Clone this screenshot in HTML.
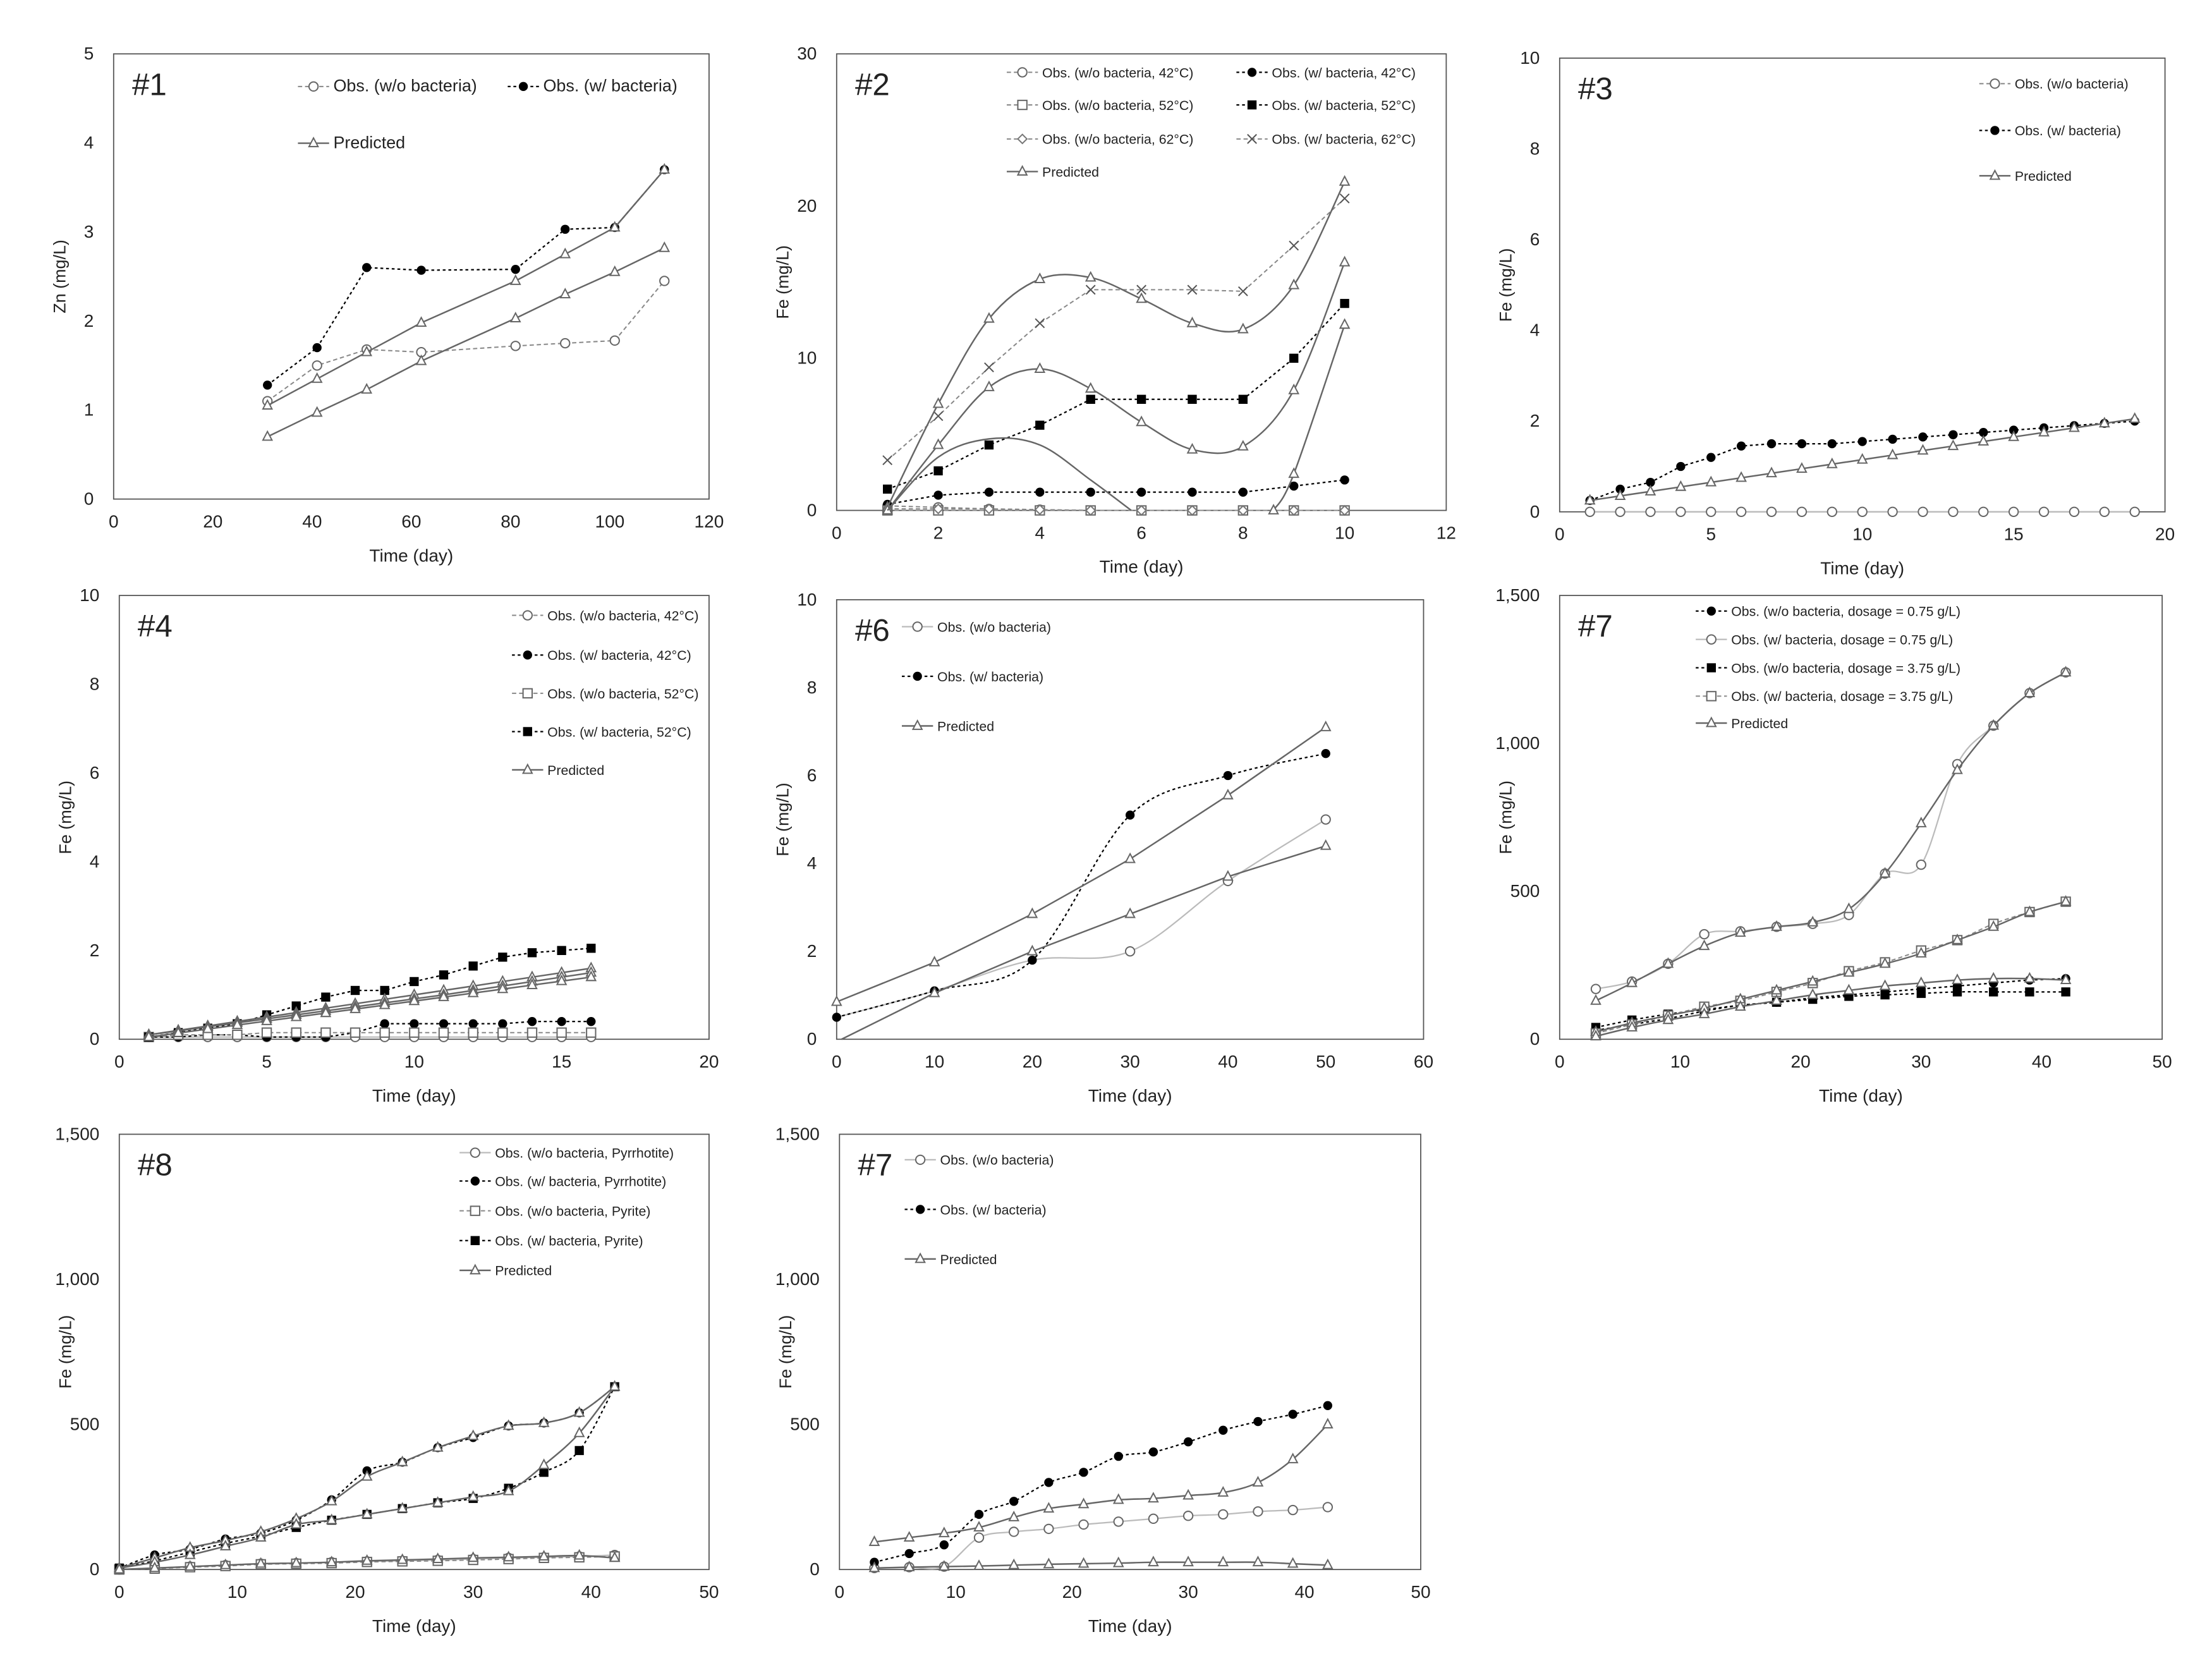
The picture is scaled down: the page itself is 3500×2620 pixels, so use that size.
<!DOCTYPE html>
<html><head><meta charset="utf-8"><style>
html,body{margin:0;padding:0;background:#fff}
svg{display:block}
text{font-family:"Liberation Sans",sans-serif;fill:#222}
</style></head><body>
<svg id="fig" width="3500" height="2620" viewBox="0 0 1560 1168" xmlns="http://www.w3.org/2000/svg"></svg>
<script>
// ---- Panel #1 data
const p1Days=[31,41,51,62,81,91,101,111];
const p1Wo=[1.1,1.5,1.68,1.65,1.72,1.75,1.78,2.45];
const p1W=[1.28,1.7,2.6,2.57,2.58,3.03,3.05,3.7];
const p1PredA=[1.05,1.35,1.65,1.98,2.45,2.75,3.05,3.7];
const p1PredB=[0.7,0.97,1.23,1.55,2.03,2.3,2.55,2.82];
// ---- Panel #2 data
const p2Days=[1,2,3,4,5,6,7,8,9,10];
const p2Wo42=[0.3,0.2,0.1,0.05,0,0,0,0,0,0];
const p2W42=[0.4,1.0,1.2,1.2,1.2,1.2,1.2,1.2,1.6,2.0];
const p2Wo52=[0,0,0,0,0,0,0,0,0,0];
const p2W52=[1.4,2.6,4.3,5.6,7.3,7.3,7.3,7.3,10.0,13.6];
const p2Wo62=[0.1,0.1,0.1,0.05,0,0,0,0,0,0];
const p2W62=[3.3,6.2,9.4,12.3,14.5,14.5,14.5,14.4,17.4,20.5];
const p2PredA=[0.2,7.0,12.6,15.2,15.3,13.9,12.3,11.9,14.8,21.6];
const p2PredB=[0,4.3,8.1,9.3,8.0,5.8,4.0,4.2,7.9,16.3];
const p2PredCx=[1,2,3,4,5,5.8];
const p2PredC=[0,3.5,4.7,4.3,2.0,0];
const p2PredDx=[8.6,9,10];
const p2PredD=[0,2.4,12.2];
// ---- Panel #3 data
const p3Days=[1,2,3,4,5,6,7,8,9,10,11,12,13,14,15,16,17,18,19];
const p3Wo=[0,0,0,0,0,0,0,0,0,0,0,0,0,0,0,0,0,0,0];
const p3W=[0.25,0.5,0.65,1.0,1.2,1.45,1.5,1.5,1.5,1.55,1.6,1.65,1.7,1.75,1.8,1.85,1.9,1.95,2.0];
const p3Pred=[0.25,0.35,0.45,0.55,0.65,0.75,0.85,0.95,1.05,1.15,1.25,1.35,1.45,1.55,1.65,1.75,1.85,1.95,2.05];
// ---- Panel #4 data
const p4Days=[1,2,3,4,5,6,7,8,9,10,11,12,13,14,15,16];
const p4Wo42=[0.05,0.05,0.05,0.05,0.05,0.05,0.05,0.05,0.05,0.05,0.05,0.05,0.05,0.05,0.05,0.05];
const p4W42=[0.05,0.05,0.1,0.1,0.05,0.05,0.05,0.15,0.35,0.35,0.35,0.35,0.35,0.4,0.4,0.4];
const p4Wo52=[0.05,0.1,0.1,0.1,0.15,0.15,0.15,0.15,0.15,0.15,0.15,0.15,0.15,0.15,0.15,0.15];
const p4W52=[0.05,0.15,0.25,0.35,0.55,0.75,0.95,1.1,1.1,1.3,1.45,1.65,1.85,1.95,2.0,2.05];
const p4PredA=[0.1,0.2,0.3,0.4,0.5,0.6,0.7,0.8,0.9,1.0,1.1,1.2,1.3,1.4,1.5,1.6];
const p4PredB=[0.1,0.19,0.28,0.37,0.46,0.55,0.64,0.73,0.82,0.91,1.0,1.1,1.2,1.3,1.4,1.5];
const p4PredC=[0.05,0.14,0.23,0.32,0.41,0.5,0.59,0.68,0.77,0.86,0.95,1.04,1.13,1.22,1.31,1.4];
// ---- Panel #6 data
const p6Days=[0,10,20,30,40,50];
const p6Wo=[0.5,1.1,1.8,2.0,3.6,5.0];
const p6W=[0.5,1.1,1.8,5.1,6.0,6.5];
const p6PredA=[0.85,1.75,2.85,4.1,5.55,7.1];
const p6PredBx=[0.5,10,20,30,40,50];
const p6PredB=[-0.1,1.05,2.0,2.85,3.7,4.4];
// ---- Panel #7 data
const p7Days=[3,6,9,12,15,18,21,24,27,30,33,36,39,42];
const p7Wo075=[30,50,70,95,115,125,140,150,160,170,180,190,200,205];
const p7W075=[170,195,255,355,365,380,390,420,560,590,930,1060,1170,1240];
const p7Wo375=[40,65,85,100,115,125,135,145,150,155,160,160,160,160];
const p7W375=[20,50,80,110,130,160,190,230,260,300,335,390,430,465];
const p7PredA=[130,190,255,315,360,380,395,440,560,730,910,1060,1170,1240];
const p7PredB=[25,55,80,105,135,165,195,225,255,290,335,380,430,465];
const p7PredC=[10,40,65,85,110,130,150,165,180,190,200,205,205,200];
// ---- Panel #8 data
const p8Days=[0,3,6,9,12,15,18,21,24,27,30,33,36,39,42];
const p8WoPy=[0,5,10,15,20,22,25,28,30,33,36,40,42,45,50];
const p8WPy=[5,50,70,105,125,170,240,340,370,420,455,495,505,540,630];
const p8WoPr=[0,3,8,12,18,20,22,26,28,30,33,36,40,42,45];
const p8WPr=[5,30,60,90,115,145,170,190,210,230,245,280,335,410,630];
const p8PredA=[5,40,75,100,130,175,235,320,370,420,460,495,505,540,630];
const p8PredB=[5,25,50,80,110,155,170,190,210,230,250,270,360,470,630];
const p8PredC=[0,5,10,15,20,22,25,30,33,36,40,42,45,48,40];
// ---- Panel #7 (red) data
const p9Days=[3,6,9,12,15,18,21,24,27,30,33,36,39,42];
const p9Wo=[5,8,10,110,130,140,155,165,175,185,190,200,205,215];
const p9W=[25,55,85,190,235,300,335,390,405,440,480,510,535,565];
const p9PredA=[95,110,125,145,180,210,225,240,245,255,265,300,380,500];
const p9PredB=[5,8,10,12,15,18,20,22,25,25,25,25,20,15];

const NS="http://www.w3.org/2000/svg";
const fig=document.getElementById('fig');
function mk(tag,attrs,parent){const e=document.createElementNS(NS,tag);for(const k in attrs)e.setAttribute(k,attrs[k]);(parent||fig).appendChild(e);return e;}
function fmt(v){return v>=1000?(Math.floor(v/1000)+','+String(v%1000).padStart(3,'0')):String(v);}
function marker(g,m,x,y,col){
  const r=3.2;let e;
  if(m==='oc')e=mk('circle',{cx:x,cy:y,r:r,fill:'#fff',stroke:col,'stroke-width':0.9},g);
  else if(m==='fc')e=mk('circle',{cx:x,cy:y,r:r,fill:'#000'},g);
  else if(m==='os')e=mk('rect',{x:x-r,y:y-r,width:2*r,height:2*r,fill:'#fff',stroke:col,'stroke-width':0.9},g);
  else if(m==='fs')e=mk('rect',{x:x-r,y:y-r,width:2*r,height:2*r,fill:'#000'},g);
  else if(m==='tri')e=mk('polygon',{points:`${x},${y-r-0.5} ${x-r},${y+r-0.8} ${x+r},${y+r-0.8}`,fill:'#fff',stroke:'#666','stroke-width':0.9},g);
  else if(m==='x')e=mk('path',{d:`M${x-r} ${y-r}L${x+r} ${y+r}M${x-r} ${y+r}L${x+r} ${y-r}`,stroke:'#555','stroke-width':0.9},g);
  else if(m==='dia')e=mk('polygon',{points:`${x},${y-r} ${x+r},${y} ${x},${y+r} ${x-r},${y}`,fill:'#fff',stroke:'#777','stroke-width':0.9},g);
  if(e){
  }
}
function smoothPath(pts){
  let d=`M${pts[0][0]} ${pts[0][1]}`;
  for(let i=0;i<pts.length-1;i++){
    const p0=pts[Math.max(0,i-1)],p1=pts[i],p2=pts[i+1],p3=pts[Math.min(pts.length-1,i+2)];
    const c1=[p1[0]+(p2[0]-p0[0])/6,p1[1]+(p2[1]-p0[1])/6],c2=[p2[0]-(p3[0]-p1[0])/6,p2[1]-(p3[1]-p1[1])/6];
    d+=`C${c1[0]} ${c1[1]} ${c2[0]} ${c2[1]} ${p2[0]} ${p2[1]}`;
  }
  return d;
}
const STY={
  wo:{stroke:'#888',dash:'3,2',w:0.9},
  w:{stroke:'#000',dash:'2,2',w:1},
  gray:{stroke:'#bbb',dash:'',w:1},
  pred:{stroke:'#666',dash:'',w:1.1}
};
function panel(p){
  const g=mk('g',{});
  
  
  const b=p.box;
  const sx=v=>b[0]+(v/p.xmax)*(b[2]-b[0]);
  const sy=v=>b[3]-(v/p.ymax)*(b[3]-b[1]);
  const fr=mk('rect',{x:b[0],y:b[1],width:b[2]-b[0],height:b[3]-b[1],fill:'none',stroke:'#555','stroke-width':0.8},g);
  
  
  for(let v=0;v<=p.xmax+1e-9;v+=p.xstep){
    const t=mk('text',{x:sx(v),y:b[3]+20,'font-size':12.5,'text-anchor':'middle'},g);t.textContent=fmt(Math.round(v));
    
    
  }
  for(let v=0;v<=p.ymax+1e-9;v+=p.ystep){
    const t=mk('text',{x:b[0]-14,y:sy(v)+4,'font-size':12.5,'text-anchor':'end'},g);t.textContent=fmt(Math.round(v));
    
    
  }
  const xt=mk('text',{x:(b[0]+b[2])/2,y:b[3]+44,'font-size':12.5,'text-anchor':'middle'},g);xt.textContent='Time (day)';
  
  
  const yc=[b[0]-34,(b[1]+b[3])/2];
  const yt=mk('text',{x:yc[0],y:yc[1],'font-size':12,'text-anchor':'middle',transform:`rotate(-90 ${yc[0]} ${yc[1]})`},g);yt.textContent=p.ytitle;
  
  
  const lb=mk('text',{x:b[0]+13,y:b[1]+29,'font-size':22,fill:p.labelColor||'#222'},g);lb.textContent=p.label;
  
  
  const cg=mk('g',{'clip-path':''},g);
  for(const s of p.series){
    const st=STY[s.style];
    const pts=s.xs.map((x,i)=>[sx(x),Math.min(b[3],sy(s.ys[i]))]);
    if(st){
      const d=s.smooth?smoothPath(pts):'M'+pts.map(q=>q.join(' ')).join('L');
      const l=mk('path',{d:d,fill:'none',stroke:st.stroke,'stroke-width':st.w,'stroke-dasharray':st.dash},cg);
      
      
    }
    if(s.m)pts.forEach(q=>marker(cg,s.m,q[0],q[1],s.mc||'#666'));
  }
  p.legend.forEach((L,i)=>{
    const lx=L[0],ly=L[1];
    const lg=mk('g',{},g);
    
    
    const st=STY[L[3]];
    mk('line',{x1:lx,y1:ly,x2:lx+22,y2:ly,stroke:st.stroke,'stroke-width':st.w,'stroke-dasharray':st.dash},lg);
    marker(lg,L[2],lx+11,ly,'#666');
    const t=mk('text',{x:lx+25,y:ly+3.5,'font-size':L[5]||9.5},lg);t.textContent=L[4];
  });
}

panel({name:'panel-1',box:[80,38,500,352],xmax:120,xstep:20,ymax:5,ystep:1,label:'#1',ytitle:'Zn (mg/L)',
 series:[{xs:p1Days,ys:p1Wo,style:'wo',m:'oc'},{xs:p1Days,ys:p1W,style:'w',m:'fc'},
 {xs:p1Days,ys:p1PredA,style:'pred',m:'tri'},{xs:p1Days,ys:p1PredB,style:'pred',m:'tri'}],
 legend:[[210,61,'oc','wo','Obs. (w/o bacteria)',12],[358,61,'fc','w','Obs. (w/ bacteria)',12],[210,101,'tri','pred','Predicted',12]]});

panel({name:'panel-2',box:[590,38,1020,360],xmax:12,xstep:2,ymax:30,ystep:10,label:'#2',ytitle:'Fe (mg/L)',
 series:[{xs:p2Days,ys:p2Wo42,style:'wo',m:'oc'},{xs:p2Days,ys:p2W42,style:'w',m:'fc'},
 {xs:p2Days,ys:p2Wo52,style:'wo',m:'os'},{xs:p2Days,ys:p2W52,style:'w',m:'fs'},
 {xs:p2Days,ys:p2Wo62,style:'wo',m:'dia'},{xs:p2Days,ys:p2W62,style:'wo',m:'x'},
 {xs:p2Days,ys:p2PredA,style:'pred',m:'tri',smooth:true},{xs:p2Days,ys:p2PredB,style:'pred',m:'tri',smooth:true},
 {xs:p2PredCx,ys:p2PredC,style:'pred',smooth:true},{xs:p2PredDx,ys:p2PredD,style:'pred',m:'tri',smooth:true}],
 legend:[[710,51,'oc','wo','Obs. (w/o bacteria, 42°C)'],[872,51,'fc','w','Obs. (w/ bacteria, 42°C)'],
 [710,74,'os','wo','Obs. (w/o bacteria, 52°C)'],[872,74,'fs','w','Obs. (w/ bacteria, 52°C)'],
 [710,98,'dia','wo','Obs. (w/o bacteria, 62°C)'],[872,98,'x','wo','Obs. (w/ bacteria, 62°C)'],
 [710,121,'tri','pred','Predicted']]});

panel({name:'panel-3',box:[1100,41,1527,361],xmax:20,xstep:5,ymax:10,ystep:2,label:'#3',ytitle:'Fe (mg/L)',
 series:[{xs:p3Days,ys:p3Wo,style:'gray',m:'oc'},{xs:p3Days,ys:p3W,style:'w',m:'fc'},{xs:p3Days,ys:p3Pred,style:'pred',m:'tri'}],
 legend:[[1396,59,'oc','wo','Obs. (w/o bacteria)'],[1396,92,'fc','w','Obs. (w/ bacteria)'],[1396,124,'tri','pred','Predicted']]});

panel({name:'panel-4',box:[84,420,500,733],xmax:20,xstep:5,ymax:10,ystep:2,label:'#4',ytitle:'Fe (mg/L)',
 series:[{xs:p4Days,ys:p4Wo42,style:'gray',m:'oc'},{xs:p4Days,ys:p4W42,style:'w',m:'fc'},
 {xs:p4Days,ys:p4Wo52,style:'wo',m:'os'},{xs:p4Days,ys:p4W52,style:'w',m:'fs'},
 {xs:p4Days,ys:p4PredA,style:'pred',m:'tri'},{xs:p4Days,ys:p4PredB,style:'pred',m:'tri'},{xs:p4Days,ys:p4PredC,style:'pred',m:'tri'}],
 legend:[[361,434,'oc','wo','Obs. (w/o bacteria, 42°C)'],[361,462,'fc','w','Obs. (w/ bacteria, 42°C)'],
 [361,489,'os','wo','Obs. (w/o bacteria, 52°C)'],[361,516,'fs','w','Obs. (w/ bacteria, 52°C)'],[361,543,'tri','pred','Predicted']]});

panel({name:'panel-6',box:[590,423,1004,733],xmax:60,xstep:10,ymax:10,ystep:2,label:'#6',ytitle:'Fe (mg/L)',
 series:[{xs:p6Days,ys:p6Wo,style:'gray',m:null,smooth:true},{xs:p6Days.slice(3),ys:p6Wo.slice(3),m:'oc'},
 {xs:p6Days,ys:p6W,style:'w',m:'fc',smooth:true},
 {xs:p6Days,ys:p6PredA,style:'pred',m:'tri'},{xs:p6PredBx,ys:p6PredB,style:'pred'},{xs:p6Days.slice(1),ys:p6PredB.slice(1),m:'tri'}],
 legend:[[636,442,'oc','gray','Obs. (w/o bacteria)'],[636,477,'fc','w','Obs. (w/ bacteria)'],[636,512,'tri','pred','Predicted']]});

panel({name:'panel-7',box:[1100,420,1525,733],xmax:50,xstep:10,ymax:1500,ystep:500,label:'#7',ytitle:'Fe (mg/L)',
 series:[{xs:p7Days,ys:p7Wo075,style:'w',m:'fc',smooth:true},{xs:p7Days,ys:p7W075,style:'gray',m:'oc',smooth:true},
 {xs:p7Days,ys:p7Wo375,style:'w',m:'fs',smooth:true},{xs:p7Days,ys:p7W375,style:'wo',m:'os',smooth:true},
 {xs:p7Days,ys:p7PredA,style:'pred',m:'tri',smooth:true},{xs:p7Days,ys:p7PredB,style:'pred',m:'tri',smooth:true},{xs:p7Days,ys:p7PredC,style:'pred',m:'tri',smooth:true}],
 legend:[[1196,431,'fc','w','Obs. (w/o bacteria, dosage = 0.75 g/L)'],[1196,451,'oc','gray','Obs. (w/ bacteria, dosage = 0.75 g/L)'],
 [1196,471,'fs','w','Obs. (w/o bacteria, dosage = 3.75 g/L)'],[1196,491,'os','wo','Obs. (w/ bacteria, dosage = 3.75 g/L)'],[1196,510,'tri','pred','Predicted']]});

panel({name:'panel-8',box:[84,800,500,1107],xmax:50,xstep:10,ymax:1500,ystep:500,label:'#8',ytitle:'Fe (mg/L)',
 series:[{xs:p8Days,ys:p8WoPy,style:'gray',m:'oc',smooth:true},{xs:p8Days,ys:p8WPy,style:'w',m:'fc',smooth:true},
 {xs:p8Days,ys:p8WoPr,style:'wo',m:'os',smooth:true},{xs:p8Days,ys:p8WPr,style:'w',m:'fs',smooth:true},
 {xs:p8Days,ys:p8PredA,style:'pred',m:'tri',smooth:true},{xs:p8Days,ys:p8PredB,style:'pred',m:'tri',smooth:true},{xs:p8Days,ys:p8PredC,style:'pred',m:'tri',smooth:true}],
 legend:[[324,813,'oc','gray','Obs. (w/o bacteria, Pyrrhotite)'],[324,833,'fc','w','Obs. (w/ bacteria, Pyrrhotite)'],
 [324,854,'os','wo','Obs. (w/o bacteria, Pyrite)'],[324,875,'fs','w','Obs. (w/ bacteria, Pyrite)'],[324,896,'tri','pred','Predicted']]});

panel({name:'panel-7b',box:[592,800,1002,1107],xmax:50,xstep:10,ymax:1500,ystep:500,label:'#7',labelColor:'#e00000',ytitle:'Fe (mg/L)',
 series:[{xs:p9Days,ys:p9Wo,style:'gray',m:'oc',smooth:true},{xs:p9Days,ys:p9W,style:'w',m:'fc',smooth:true},
 {xs:p9Days,ys:p9PredA,style:'pred',m:'tri',smooth:true},{xs:p9Days,ys:p9PredB,style:'pred',m:'tri',smooth:true}],
 legend:[[638,818,'oc','gray','Obs. (w/o bacteria)'],[638,853,'fc','w','Obs. (w/ bacteria)'],[638,888,'tri','pred','Predicted']]});
</script>
</body></html>
